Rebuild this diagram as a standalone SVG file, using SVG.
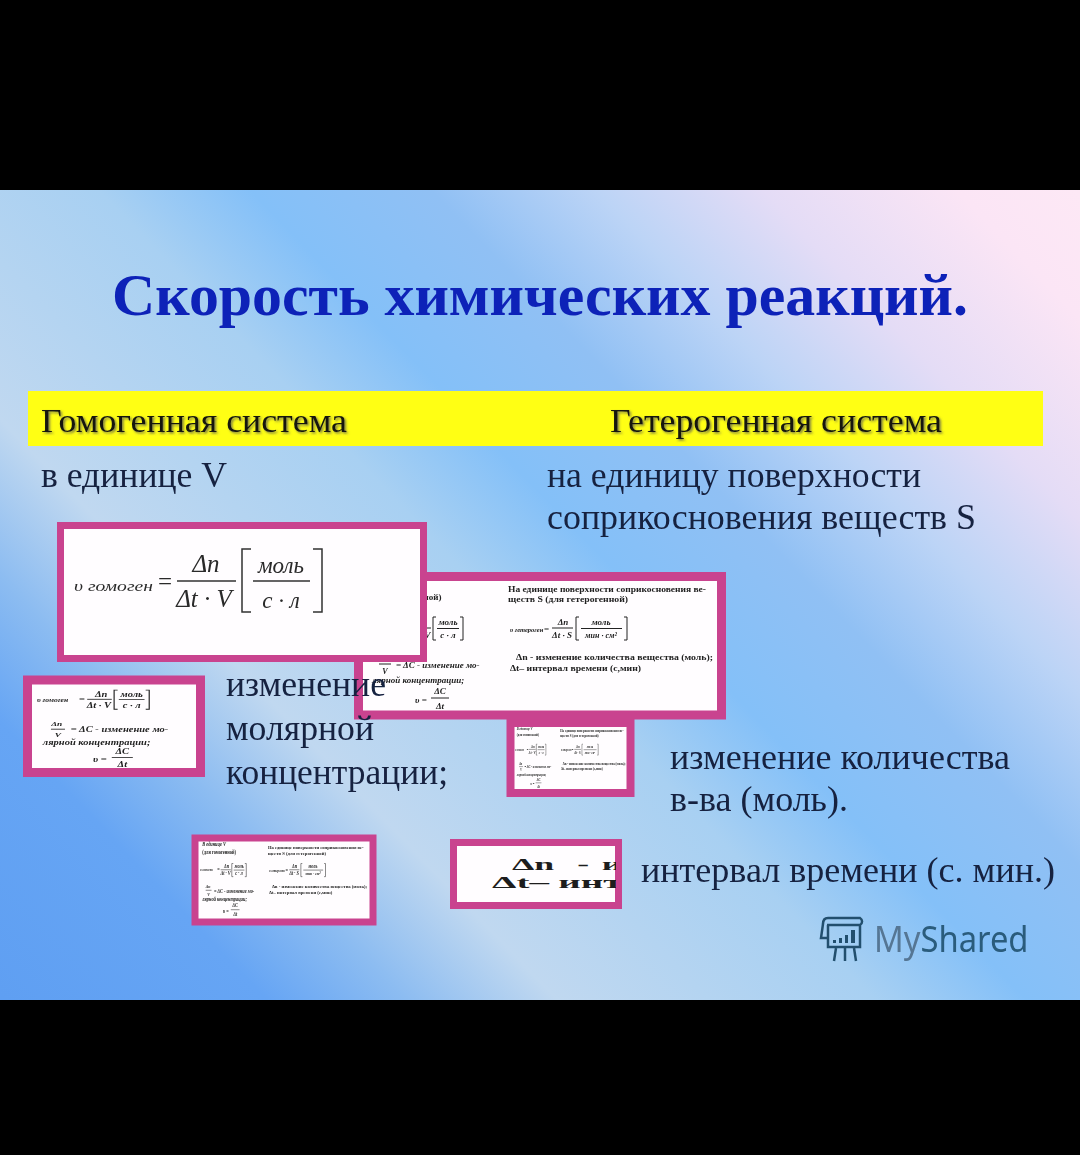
<svg xmlns="http://www.w3.org/2000/svg" xmlns:xlink="http://www.w3.org/1999/xlink" width="1080" height="1155" viewBox="0 0 1080 1155">
<style>
.serif{font-family:"Liberation Serif",serif}
.body{font-family:"Liberation Serif",serif;font-size:35px;fill:#14203f;filter:url(#soft)}
.head{font-family:"Liberation Serif",serif;font-size:34px;fill:#15180f;filter:url(#shadow)}
.frame{fill:#fffdff;stroke:#c9438f}
.mini{font-family:"Liberation Serif",serif;font-size:9px;fill:#222;font-weight:bold}
.m8{font-size:8px}
.m7{font-size:6.500px}
.it{font-style:italic}
.ln{stroke:#222;fill:none}
.big{font-family:"Liberation Serif",serif;fill:#2a2a2a;font-style:italic;font-size:25px}
.big23{font-size:23px}
.big16{font-size:15.500px}
.up{font-style:normal}
.rule{stroke:#333;fill:none;stroke-width:1.500}
</style>
<defs>
<filter id="soft" x="-5%" y="-20%" width="110%" height="140%"><feGaussianBlur stdDeviation="0.45"/></filter>
<filter id="mb" x="-5%" y="-5%" width="110%" height="110%"><feGaussianBlur stdDeviation="0.35"/></filter>
<filter id="shadow" x="-5%" y="-20%" width="110%" height="150%"><feGaussianBlur stdDeviation="0.3"/><feDropShadow dx="1.500" dy="1.500" stdDeviation="0.8" flood-color="#555" flood-opacity="0.8"/></filter>
<filter id="glow" x="-5%" y="-10%" width="110%" height="120%"><feGaussianBlur stdDeviation="0.6"/></filter>
<linearGradient id="bg" gradientUnits="userSpaceOnUse" x1="43" y1="1040" x2="1006" y2="117">
<stop offset="0" stop-color="#5f9ff2"/>
<stop offset="0.142" stop-color="#66a5f4"/>
<stop offset="0.217" stop-color="#8cbcf1"/>
<stop offset="0.299" stop-color="#c0d8f0"/>
<stop offset="0.381" stop-color="#b4d4f1"/>
<stop offset="0.471" stop-color="#a8d0f2"/>
<stop offset="0.553" stop-color="#84c0f8"/>
<stop offset="0.651" stop-color="#90c0f4"/>
<stop offset="0.74" stop-color="#bcd4f6"/>
<stop offset="0.83" stop-color="#e4dcf6"/>
<stop offset="0.935" stop-color="#fbe5f5"/>
<stop offset="1" stop-color="#fde8f5"/>
</linearGradient>
<clipPath id="cpF"><rect x="457" y="847" width="159" height="55"/></clipPath>
<g id="leftFormula">
<text class="mini it m7" x="367" y="631">υ гомоген</text>
<text class="mini" x="403" y="631">=</text>
<text class="mini it" x="422" y="625" text-anchor="middle">Δn</text>
<path class="ln" d="M410 628H431"/>
<text class="mini it" x="420" y="638" text-anchor="middle">Δt · V</text>
<path class="ln" d="M436 617h-3v23h3M460 617h3v23h-3M437 628.500H459"/>
<text class="mini it" x="448" y="625" text-anchor="middle">моль</text>
<text class="mini it" x="448" y="638" text-anchor="middle">с · л</text>
<text class="mini it m8" x="384" y="660" text-anchor="middle">Δn</text>
<path class="ln" d="M379 664H391"/>
<text class="mini it m8" x="385" y="674" text-anchor="middle">V</text>
<text class="mini it" x="396" y="668">= ΔC - изменение мо-</text>
<text class="mini it" x="372" y="683">лярной концентрации;</text>
<text class="mini it" x="415" y="703">υ =</text>
<text class="mini it" x="440" y="694" text-anchor="middle">ΔC</text>
<path class="ln" d="M431 698H449"/>
<text class="mini it" x="440" y="709" text-anchor="middle">Δt</text>
</g>
<g id="slide">
<text class="mini it" x="372" y="587">В единице V</text>
<text class="mini" x="372" y="600">(для гомогенной)</text>
<use xlink:href="#leftFormula"/>
<text class="mini m8" x="508" y="592" textLength="198" lengthAdjust="spacingAndGlyphs">На единице поверхности соприкосновения ве-</text>
<text class="mini m8" x="508" y="602" textLength="120" lengthAdjust="spacingAndGlyphs">ществ S (для гетерогенной)</text>
<text class="mini it m7" x="510" y="632">υ гетероген</text>
<text class="mini" x="544" y="632">=</text>
<text class="mini it" x="563" y="625" text-anchor="middle">Δn</text>
<path class="ln" d="M552 628H573"/>
<text class="mini it" x="562" y="638" text-anchor="middle">Δt · S</text>
<path class="ln" d="M579 617h-3v23h3M624 617h3v23h-3M581 628.500H622"/>
<text class="mini it" x="601" y="625" text-anchor="middle">моль</text>
<text class="mini it m8" x="601" y="638" text-anchor="middle">мин · см²</text>
<text class="mini m8" x="516" y="660" textLength="197" lengthAdjust="spacingAndGlyphs">Δn  - изменение количества вещества (моль);</text>
<text class="mini m8" x="510" y="671" textLength="131" lengthAdjust="spacingAndGlyphs">Δt– интервал времени (с,мин)</text>
</g>
</defs>

<rect width="1080" height="1155" fill="#000"/>
<rect id="background" y="190" width="1080" height="810" fill="url(#bg)"/>

<g id="title"><text class="serif" x="112" y="315" font-size="60" font-weight="bold" fill="#1122b8" textLength="856" lengthAdjust="spacingAndGlyphs" filter="url(#soft)">Скорость химических реакций.</text></g>

<g id="header-band">
<rect x="28" y="391" width="1015" height="55" fill="#ffff14"/>
<text class="head" x="41" y="432" textLength="306" lengthAdjust="spacingAndGlyphs">Гомогенная система</text>
<text class="head" x="610" y="432" textLength="332" lengthAdjust="spacingAndGlyphs">Гетерогенная система</text>
</g>

<g id="label-unit-v"><text class="body" x="41" y="487" textLength="186" lengthAdjust="spacingAndGlyphs">в единице V</text></g>
<g id="label-unit-s">
<text class="body" x="547" y="487" textLength="374" lengthAdjust="spacingAndGlyphs">на единицу поверхности</text>
<text class="body" x="547" y="529" textLength="429" lengthAdjust="spacingAndGlyphs">соприкосновения веществ S</text>
</g>

<g id="box-slide-large">
<rect class="frame" x="358.500" y="576.500" width="363" height="138.500" stroke-width="9"/>
<use xlink:href="#slide" filter="url(#mb)"/>
</g>

<g id="box-slide-d">
<rect class="frame" x="510.500" y="723" width="120" height="70" stroke-width="8"/>
<g transform="translate(514 727) scale(0.319 0.477) translate(-363 -581)" filter="url(#mb)"><use xlink:href="#slide"/></g>
</g>

<g id="box-slide-e">
<rect class="frame" x="195" y="838" width="178" height="84" stroke-width="7"/>
<g transform="translate(198 843) scale(0.483 0.57) translate(-363 -581)" filter="url(#mb)"><use xlink:href="#slide"/></g>
</g>

<g id="box-formula-small">
<rect class="frame" x="27.500" y="680" width="173" height="92.500" stroke-width="9"/>
<g transform="translate(72 730) scale(1.17 0.83) translate(-397 -665)" filter="url(#mb)"><use xlink:href="#leftFormula"/></g>
</g>

<g id="box-delta">
<rect class="frame" x="453.500" y="842.500" width="165" height="63" stroke-width="7"/>
<g clip-path="url(#cpF)" font-family="Liberation Serif, serif" font-weight="bold" fill="#1d1d1d" font-size="17">
<text transform="translate(512 870) scale(2.1 1)">Δn<tspan dx="11">-</tspan><tspan dx="6">и</tspan></text>
<text transform="translate(492 888) scale(2.3 1)">Δt–<tspan dx="4">инт</tspan></text>
</g>
</g>

<g id="box-formula-large">
<rect class="frame" x="60.500" y="525.500" width="363" height="133" stroke-width="7"/>
<g filter="url(#mb)">
<text class="big big16" x="74" y="591" textLength="79" lengthAdjust="spacingAndGlyphs">υ гомоген</text>
<text class="big up" x="158" y="590">=</text>
<text class="big" x="206" y="572" text-anchor="middle">Δn</text>
<path class="rule" d="M177 581H236"/>
<text class="big" x="204" y="607" text-anchor="middle">Δt · V</text>
<path class="rule" d="M251 549h-9v63h9M313 549h9v63h-9"/>
<path class="rule" d="M253 581H310"/>
<text class="big big23" x="281" y="573" text-anchor="middle">моль</text>
<text class="big big23" x="281" y="608" text-anchor="middle">с · л</text>
</g>
</g>

<g id="label-molar">
<text class="body" x="226" y="696" textLength="160" lengthAdjust="spacingAndGlyphs">изменение</text>
<text class="body" x="226" y="740" textLength="148" lengthAdjust="spacingAndGlyphs">молярной</text>
<text class="body" x="226" y="784" textLength="222" lengthAdjust="spacingAndGlyphs">концентрации;</text>
</g>
<g id="label-amount">
<text class="body" x="670" y="769" textLength="340" lengthAdjust="spacingAndGlyphs">изменение количества</text>
<text class="body" x="670" y="811" textLength="178" lengthAdjust="spacingAndGlyphs">в-ва (моль).</text>
</g>
<g id="label-interval"><text class="body" x="641" y="882" textLength="414" lengthAdjust="spacingAndGlyphs">интервал времени (с. мин.)</text></g>

<g id="watermark" filter="url(#glow)">
<g fill="none" stroke="#24506e" stroke-width="2.500">
<path d="M828 918H860a4 4 0 0 1 0 7H827M828 918c-4 0-5 3-5 6l-2 14h6M828 925V947H860V925"/>
<path d="M836 948l-2 13M845 948v13M854 948l2 13"/>
</g>
<g fill="#24506e"><rect x="833" y="940" width="3" height="3"/><rect x="839" y="938" width="3" height="5"/><rect x="845" y="935" width="3" height="8"/><rect x="851" y="930" width="4" height="13"/></g>
<text font-family="Noto Sans, Open Sans, sans-serif" font-size="36" transform="translate(874 952) scale(0.91 1)"><tspan fill="#557694">My</tspan><tspan fill="#2a5b7c">Shared</tspan></text>
</g>
</svg>
